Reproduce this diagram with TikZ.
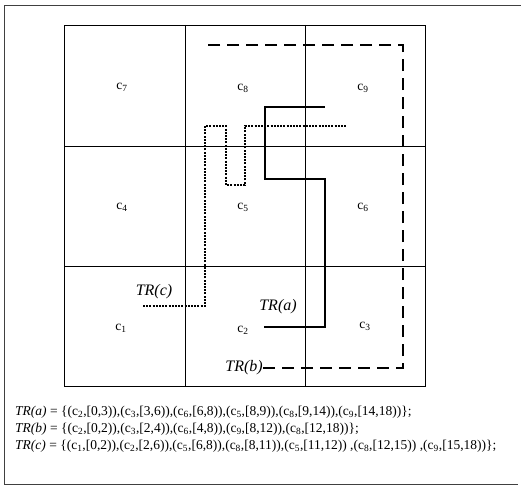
\documentclass[tikz,border=0pt]{standalone}
\usepackage{fontspec}
\setmainfont{Liberation Serif}
\newcommand{\cs}[1]{c\textsubscript{#1}}
\begin{document}
\begin{tikzpicture}[x=1pt,y=-1pt,
  gridline/.style={line width=0.8pt},
  frameline/.style={line width=1pt, black!75},
  cell/.style={font=\fontsize{13.5}{13.5}\selectfont, inner sep=0pt},
  trlabel/.style={font=\fontsize{16}{16}\selectfont\itshape, inner sep=0pt},
  tra/.style={line width=1.8pt},
  trb/.style={line width=1.8pt, dash pattern=on 12pt off 7pt},
  trc/.style={line width=1.4pt, dash pattern=on 2pt off 1.2pt},
  formula/.style={font=\fontsize{13.5}{13.5}\selectfont, anchor=west, inner sep=0pt}]
\useasboundingbox (0,0) rectangle (521,487);
% outer frame
\draw[frameline] (521,6) -- (4,6) -- (4,484) -- (518,484);
% grid
\draw[gridline] (64,25) rectangle (425,386);
\draw[gridline] (185,25) -- (185,386);
\draw[gridline] (305,25) -- (305,386);
\draw[gridline] (64,146) -- (425,146);
\draw[gridline] (64,266) -- (425,266);
% cell labels
\node[cell] (c7) at (122,87) {\cs{7}};
\node[cell] (c8) at (243,88) {\cs{8}};
\node[cell] (c9) at (363,88) {\cs{9}};
\node[cell] (c4) at (122,207) {\cs{4}};
\node[cell] (c5) at (243,207) {\cs{5}};
\node[cell] (c6) at (363,207) {\cs{6}};
\node[cell] (c1) at (121,328) {\cs{1}};
\node[cell] (c2) at (243,330) {\cs{2}};
\node[cell] (c3) at (365,326) {\cs{3}};
% trajectory labels
\node[trlabel] (la) at (278,307) {TR(a)};
\node[trlabel, anchor=east] (lb) at (263,368) {TR(b)};
\node[trlabel] (lc) at (154,292) {TR(c)};
% TR(a)
\coordinate (a0) at (264,327);
\coordinate (a1) at (325,327);
\coordinate (a2) at (325,179);
\coordinate (a3) at (265,179);
\coordinate (a4) at (265,107);
\coordinate (a5) at (325,107);
\draw[tra] (a0) -- (a1) -- (a2) -- (a3) -- (a4) -- (a5);
% TR(b)
\coordinate (b1) at (403,368);
\coordinate (b2) at (403,45);
\coordinate (b3) at (205,45);
\draw[trb] (lb.east) -- (b1) -- (b2) -- (b3);
% TR(c)
\coordinate (k0) at (143,306);
\coordinate (k1) at (205,306);
\coordinate (k2) at (205,126);
\coordinate (k3) at (226,126);
\coordinate (k4) at (226,185);
\coordinate (k5) at (245,185);
\coordinate (k6) at (245,126);
\coordinate (k7) at (347,126);
\draw[trc] (k0) -- (k1) -- (k2) -- (k3) -- (k4) -- (k5) -- (k6) -- (k7);
% formulas
\node[formula] (fa) at (15,412) {\textit{TR(a)} = \{(\cs{2},[0,3)),(\cs{3},[3,6)),(\cs{6},[6,8)),(\cs{5},[8,9)),(\cs{8},[9,14)),(\cs{9},[14,18))\};};
\node[formula] (fb) at (15,429) {\textit{TR(b)} = \{(\cs{2},[0,2)),(\cs{3},[2,4)),(\cs{6},[4,8)),(\cs{9},[8,12)),(\cs{8},[12,18))\};};
\node[formula] (fc) at (15,446) {\textit{TR(c)} = \{(\cs{1},[0,2)),(\cs{2},[2,6)),(\cs{5},[6,8)),(\cs{8},[8,11)),(\cs{5},[11,12)) ,(\cs{8},[12,15)) ,(\cs{9},[15,18))\};};
\end{tikzpicture}
\end{document}
